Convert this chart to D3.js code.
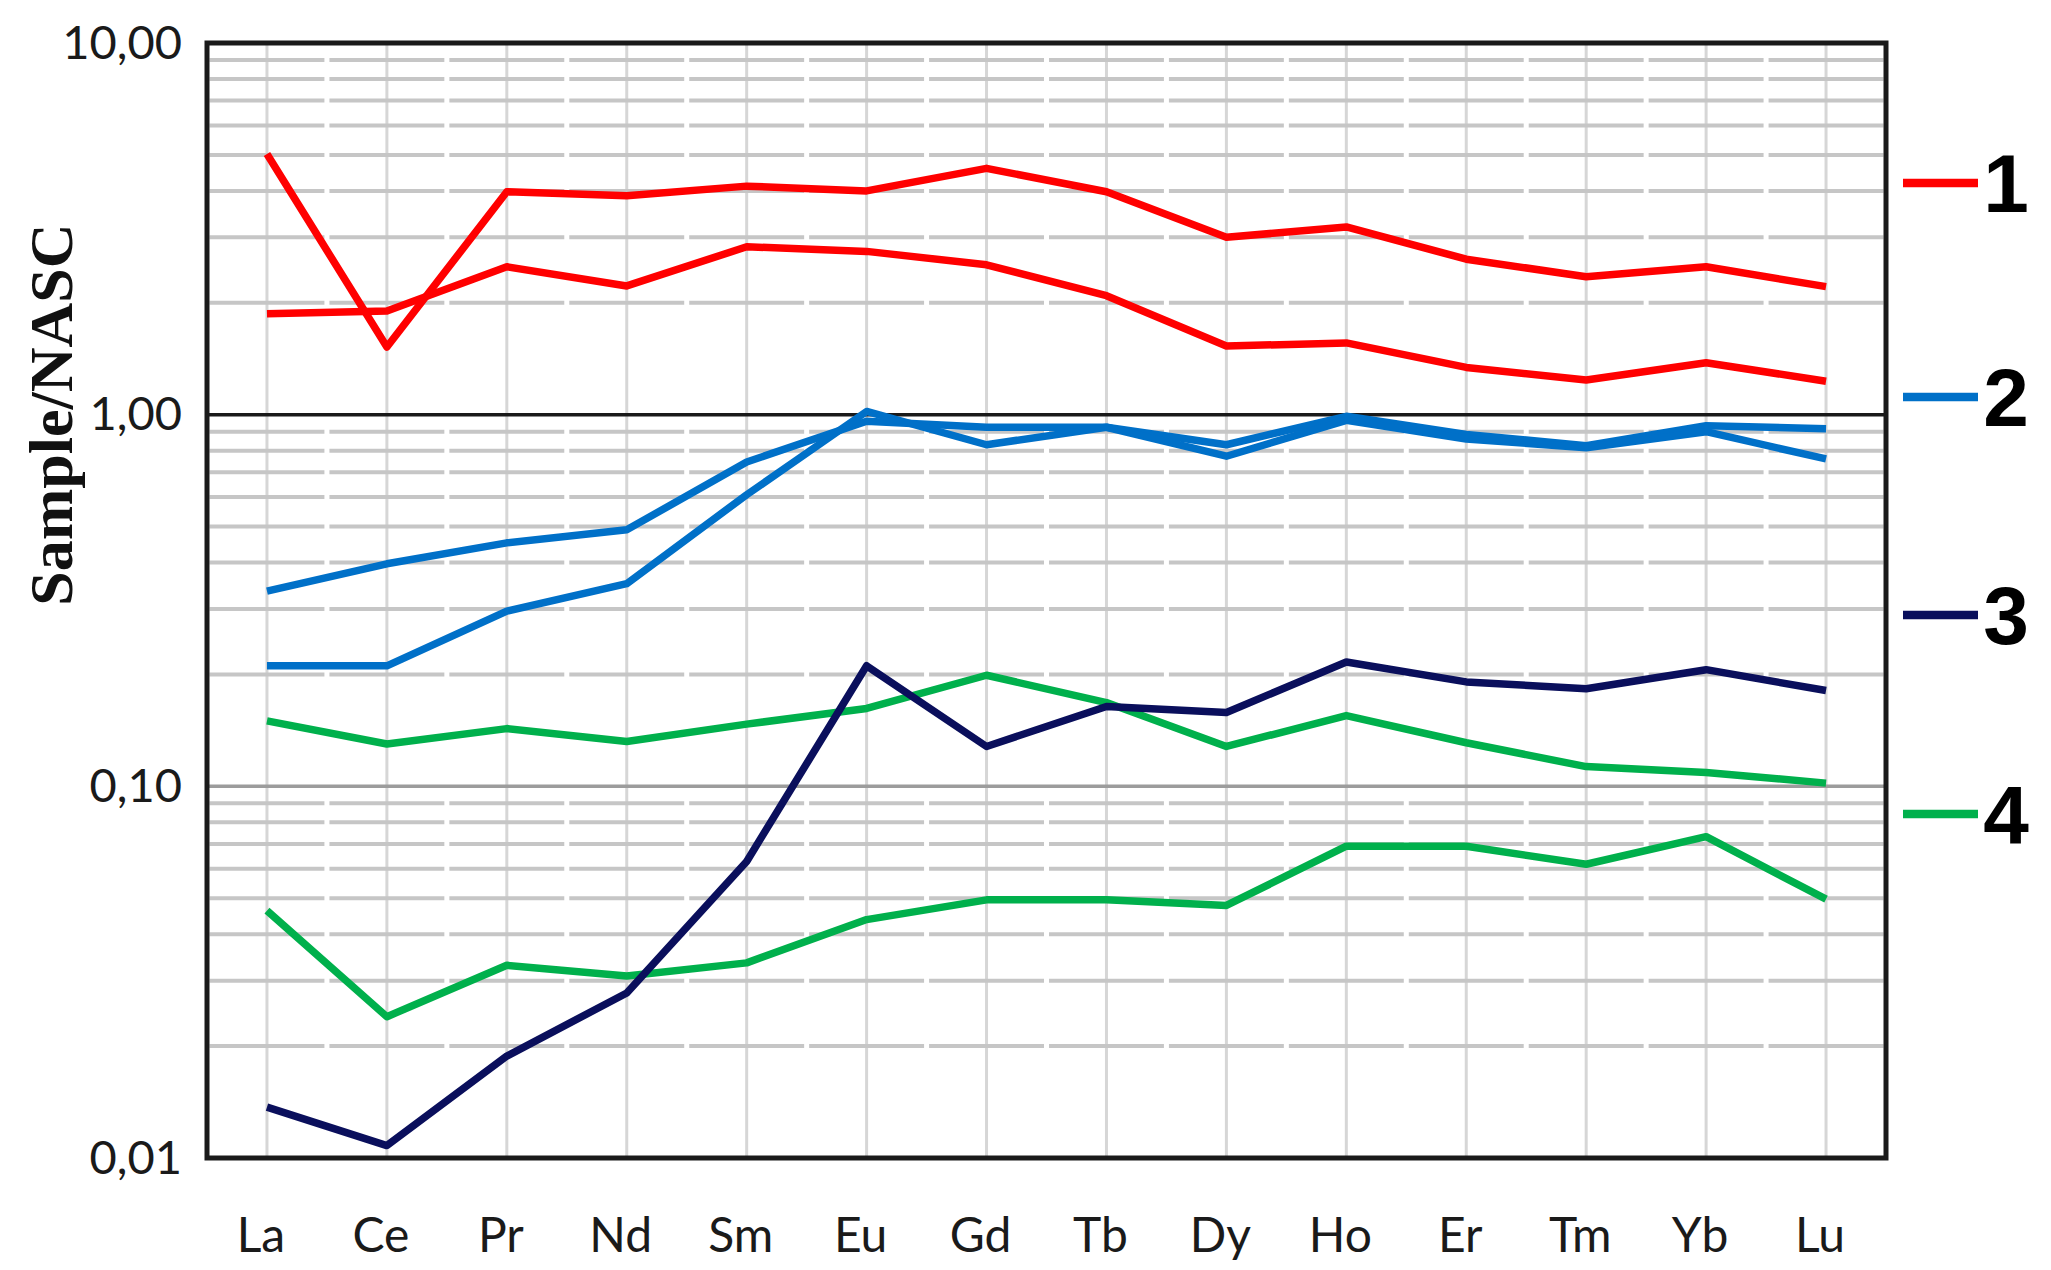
<!DOCTYPE html>
<html>
<head>
<meta charset="utf-8">
<script src="https://cdn.jsdelivr.net/npm/d3@7"></script>
<style>
  body { margin: 0; background: #fff; }
</style>
</head>
<body>
<div id="chart"></div>
<script>
const width = 2051;
const height = 1270;

const elements = ['La', 'Ce', 'Pr', 'Nd', 'Sm', 'Eu', 'Gd', 'Tb', 'Dy', 'Ho', 'Er', 'Tm', 'Yb', 'Lu'];

const yTicks = [0.01, 0.1, 1, 10];
const yTickLabels = ['0,01', '0,10', '1,00', '10,00'];

// two samples per group
const red1 = [5.03, 1.52, 3.98, 3.88, 4.12, 4.00, 4.60, 3.98, 3.00, 3.20, 2.62, 2.35, 2.50, 2.21];
const red2 = [1.87, 1.90, 2.50, 2.22, 2.83, 2.75, 2.53, 2.09, 1.53, 1.56, 1.34, 1.24, 1.38, 1.23];
const blue1 = [0.335, 0.397, 0.452, 0.49, 0.746, 0.96, 0.925, 0.925, 0.83, 0.99, 0.885, 0.825, 0.934, 0.917];
const blue2 = [0.211, 0.211, 0.296, 0.351, 0.609, 1.02, 0.83, 0.925, 0.773, 0.965, 0.86, 0.815, 0.90, 0.76];
const navy1 = [0.0137, 0.0108, 0.0188, 0.0278, 0.0628, 0.211, 0.128, 0.164, 0.158, 0.216, 0.191, 0.183, 0.206, 0.181];
const green1 = [0.150, 0.130, 0.143, 0.132, 0.147, 0.162, 0.199, 0.168, 0.128, 0.155, 0.131, 0.113, 0.109, 0.102];
const green2 = [0.0463, 0.024, 0.033, 0.0309, 0.0335, 0.0438, 0.0495, 0.0495, 0.0478, 0.069, 0.069, 0.0617, 0.0732, 0.0497];

const legendLabels = ['1', '2', '3', '4'];
const groupColors = ['#ff0000', '#0070c8', '#0a0f5c', '#00b04c'];

const series = [
  { values: red1, group: 0 },
  { values: red2, group: 0 },
  { values: green1, group: 3 },
  { values: green2, group: 3 },
  { values: navy1, group: 2 },
  { values: blue1, group: 1 },
  { values: blue2, group: 1 }
];

const margin = { top: 43, right: 165, bottom: 112, left: 207 };
const chartWidth = width - margin.left - margin.right;
const chartHeight = height - margin.top - margin.bottom;

const svg = d3.select('#chart')
  .append('svg')
  .attr('width', width)
  .attr('height', height)
  .style('background', '#fff');

const g = svg.append('g')
  .attr('transform', `translate(${margin.left},${margin.top})`);

const x = d3.scaleBand()
  .domain(elements)
  .range([0, chartWidth]);

const y = d3.scaleLog()
  .domain([0.01, 10])
  .range([chartHeight, 0]);

const cx = d => x(d) + x.bandwidth() / 2;

// vertical grid at each element
g.selectAll('.vgrid')
  .data(elements)
  .enter()
  .append('line')
  .attr('class', 'vgrid')
  .attr('x1', cx)
  .attr('x2', cx)
  .attr('y1', 0)
  .attr('y2', chartHeight)
  .attr('stroke', '#d6d6d6')
  .attr('stroke-width', 3);

// horizontal minor grid (2..9 of each decade)
const minor = y.ticks().filter(v => !yTicks.some(t => Math.abs(t - v) < 1e-9));
g.selectAll('.hgrid')
  .data(minor)
  .enter()
  .append('line')
  .attr('class', 'hgrid')
  .attr('x1', 0)
  .attr('x2', chartWidth)
  .attr('y1', d => y(d))
  .attr('y2', d => y(d))
  .attr('stroke', '#c6c6c6')
  .attr('stroke-width', 4)
  .attr('stroke-dasharray', `${x.bandwidth() - 5},5`)
  .attr('stroke-dashoffset', -2.5);

// decade lines
g.append('line')
  .attr('x1', 0).attr('x2', chartWidth)
  .attr('y1', y(0.1)).attr('y2', y(0.1))
  .attr('stroke', '#9c9c9c')
  .attr('stroke-width', 3.5);

g.append('line')
  .attr('x1', 0).attr('x2', chartWidth)
  .attr('y1', y(1)).attr('y2', y(1))
  .attr('stroke', '#1a1a1a')
  .attr('stroke-width', 3.5);

// lines
const line = d3.line()
  .x((d, i) => cx(elements[i]))
  .y(d => y(d));

g.selectAll('.series')
  .data(series)
  .enter()
  .append('path')
  .attr('class', 'series')
  .attr('d', d => line(d.values))
  .attr('fill', 'none')
  .attr('stroke', d => groupColors[d.group])
  .attr('stroke-width', 7.5)
  .attr('stroke-linejoin', 'round')
  .attr('stroke-linecap', 'butt');

// frame
g.append('rect')
  .attr('x', 0)
  .attr('y', 0)
  .attr('width', chartWidth)
  .attr('height', chartHeight)
  .attr('fill', 'none')
  .attr('stroke', '#1a1a1a')
  .attr('stroke-width', 5);

// y axis labels
const yAxis = d3.axisLeft(y)
  .tickValues(yTicks)
  .tickFormat((d, i) => yTickLabels[i])
  .tickSize(0)
  .tickPadding(25);

g.append('g')
  .call(yAxis)
  .call(a => a.select('.domain').remove())
  .selectAll('text')
  .style('font-family', 'Lato, "Open Sans", sans-serif')
  .style('font-size', '47px')
  .style('fill', '#1a1a1a');

// x axis labels
const xAxis = d3.axisBottom(x)
  .tickSize(0)
  .tickPadding(60);

g.append('g')
  .attr('transform', `translate(0,${chartHeight})`)
  .call(xAxis)
  .call(a => a.select('.domain').remove())
  .selectAll('text')
  .attr('dx', -6)
  .style('font-family', 'Lato, "Open Sans", sans-serif')
  .style('font-size', '48px')
  .style('fill', '#1a1a1a');

// y title
svg.append('text')
  .attr('transform', `translate(72,${margin.top + y(1)}) rotate(-90)`)
  .attr('text-anchor', 'middle')
  .style('font-family', '"Liberation Serif", "Times New Roman", serif')
  .style('font-weight', 'bold')
  .style('font-size', '62px')
  .style('fill', '#111')
  .text('Sample/NASC');

// legend
const legendY = [183, 397, 615, 814];
const legend = svg.selectAll('.legend')
  .data(legendLabels)
  .enter()
  .append('g')
  .attr('class', 'legend')
  .attr('transform', (d, i) => `translate(1903,${legendY[i]})`);

legend.append('line')
  .attr('x1', 0)
  .attr('x2', 75)
  .attr('y1', 0)
  .attr('y2', 0)
  .attr('stroke', (d, i) => groupColors[i])
  .attr('stroke-width', 8.5);

legend.append('text')
  .attr('x', 103)
  .attr('y', 29)
  .attr('text-anchor', 'middle')
  .style('font-family', '"Liberation Sans", Arial, sans-serif')
  .style('font-weight', 'bold')
  .style('font-size', '82px')
  .style('fill', '#000')
  .text(d => d);
</script>
</body>
</html>
